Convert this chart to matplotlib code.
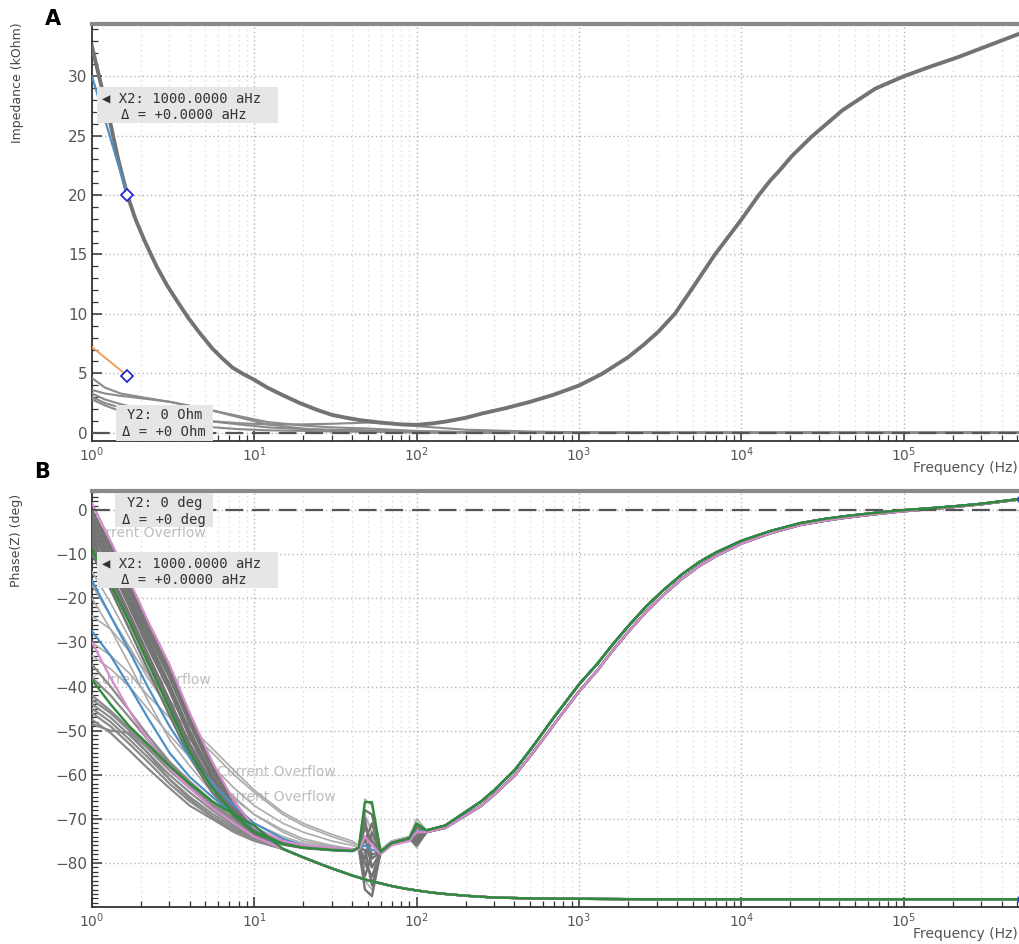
import matplotlib
matplotlib.use('Agg')
import matplotlib.pyplot as plt
from matplotlib.patches import Rectangle
from matplotlib.ticker import LogLocator, MultipleLocator, NullFormatter

#==============================================================================
# Panel A : impedance (kOhm)
#==============================================================================
f_main = [1, 1.15, 1.3, 1.45, 1.65, 1.85, 2.1, 2.5, 2.9, 3.3, 3.9, 4.6, 5.5, 6.3,
          7.3, 8.5, 10, 12, 15, 19, 24, 30, 37, 45, 60, 80, 100, 125, 150, 200,
          250, 350, 500, 700, 1000, 1380, 2000, 2500, 3080, 3890, 4900, 6870, 1e4,
          1.28e4, 1.5e4, 1.7e4, 2.05e4, 2.7e4, 4.2e4, 6.7e4, 1e5, 1.45e5, 2.15e5,
          3.2e5, 5.2e5]
z_main = [32.5, 29, 26, 23, 20, 18, 16.2, 14, 12.4, 11.2, 9.7, 8.4, 7.1, 6.3,
          5.5, 4.95, 4.45, 3.8, 3.15, 2.5, 1.95, 1.5, 1.25, 1.05, 0.85, 0.7, 0.66,
          0.78, 0.93, 1.25, 1.6, 2.05, 2.6, 3.2, 3.97, 4.94, 6.34, 7.4, 8.5, 10.0,
          12.0, 15.0, 17.94, 20.0, 21.2, 22.0, 23.3, 24.9, 27.15, 28.97, 30.0, 30.8,
          31.6, 32.5, 33.6]

f_low = [1, 1.2, 1.5, 2, 3, 5, 8, 12, 20, 30, 50, 70, 100, 200, 500, 1000, 1e4, 1e5, 5.2e5]
z_low1 = [4.6, 3.8, 3.3, 3.0, 2.6, 2.0, 1.4, 0.9, 0.6, 0.45, 0.35, 0.25, 0.15, 0.05, 0.02, 0, 0, 0, 0]
z_low2 = [3.6, 3.3, 3.1, 2.9, 2.6, 2.0, 1.3, 0.7, 0.35, 0.2, 0.1, 0.05, 0.02, 0, 0, 0, 0, 0, 0]
z_low3 = [3.3, 2.8, 2.4, 2.0, 1.5, 1.0, 0.7, 0.45, 0.3, 0.25, 0.2, 0.15, 0.1, 0.05, 0.02, 0, 0, 0, 0]
z_low4 = [3.0, 2.5, 2.1, 1.7, 1.3, 1.0, 0.8, 0.7, 0.7, 0.75, 0.85, 0.75, 0.55, 0.25, 0.1, 0.03, 0, 0, 0]
z_low5 = [2.8, 2.3, 1.8, 1.3, 0.8, 0.5, 0.3, 0.2, 0.15, 0.1, 0.08, 0.05, 0.03, 0, 0, 0, 0, 0, 0]

f_cursor = [1, 1.65]
z_blue = [30, 20]
z_orange = [7.2, 4.8]

#==============================================================================
# Panel B : phase (deg)
#==============================================================================
f_head = [1, 1.3, 1.7, 2.2, 3, 4, 5.5, 7.5, 10, 15, 20, 30, 40]
f_spike1 = [44, 48, 53, 60, 70, 90, 100]
f_up_tail = [115, 150, 200, 250, 300, 400, 500, 700, 1000, 1300, 1600, 2000, 2600,
             3300, 4300, 5500, 7000, 1e4, 1.5e4, 2.3e4, 3.3e4, 4.5e4, 6.5e4, 9.5e4,
             1.4e5, 2e5, 3e5, 5.2e5]
p_up_tail = [-72.6, -71.5, -68.4, -66, -63.5, -59, -54.4, -47, -39.5, -34.8, -30.6,
             -26.4, -21.8, -18.2, -14.6, -11.8, -9.6, -7.0, -4.8, -3.0, -2.0, -1.35,
             -0.7, -0.1, 0.35, 0.8, 1.4, 2.5]
p_up_tail_lo = [-73, -72, -69.2, -67, -64.5, -60.2, -55.8, -48.6, -41.1, -36.3,
                -32.0, -27.7, -23.0, -19.3, -15.6, -12.7, -10.4, -7.6, -5.3, -3.4,
                -2.4, -1.7, -1.0, -0.35, 0.15, 0.65, 1.3, 2.4]

# heads (1..40 Hz) of the curves ending on the upper branch
s1 = [0, -8, -17, -26, -36, -47, -58, -66, -72, -75.2, -76.2, -76.8, -77]
s2 = [-2, -10, -19, -28, -38, -48.5, -59, -67, -72.3, -75.3, -76.2, -76.8, -77]
s3 = [-3, -11, -20, -29, -39.5, -50, -60, -67.5, -72.5, -75.4, -76.3, -76.9, -77.1]
s4 = [-5, -13, -22, -31, -41, -51.5, -61, -68, -72.8, -75.5, -76.4, -77, -77.2]
s5 = [-6, -14.5, -23.5, -32.5, -43, -53, -62, -68.5, -73, -75.6, -76.5, -77, -77.2]
s6 = [-8, -16, -25, -34, -44.5, -54.5, -63, -69, -73.2, -75.7, -76.5, -77, -77.2]
s7 = [-10, -18, -27, -36, -46.5, -56, -64, -69.5, -73.5, -75.8, -76.6, -77.1, -77.3]
s8 = [-4, -12, -21, -30, -40, -50.5, -60.5, -67.8, -72.6, -75.4, -76.3, -76.9, -77.1]
s9 = [-7, -15, -24, -33, -43.5, -54, -62.5, -68.7, -73.1, -75.6, -76.5, -77, -77.2]
s10 = [-1, -9, -18, -27, -37, -47.5, -58.5, -66.5, -72.1, -75.2, -76.2, -76.8, -77]
l1 = [-17, -24, -31, -38, -45, -50, -55, -60, -64, -69, -71.5, -74, -75.5]
l2 = [-24, -27, -32, -37, -43, -49, -54, -59, -63.5, -68.5, -71, -73.5, -75]
l3 = [-30, -33, -37, -42, -47, -52, -58, -63, -67, -71, -73, -75, -76]
l4 = [-20, -27, -35, -43, -52, -58, -64, -68, -71, -74, -75.5, -76.5, -77]
l5 = [-33, -36, -40, -45, -51, -56, -61, -65.5, -69, -72.5, -74.5, -76, -76.8]
l6 = [-14, -21, -29, -37, -46, -53, -60, -65, -69, -73, -75, -76.3, -77]
green_up = [-9, -17, -25.5, -34.5, -45, -55, -63, -69, -73, -75.6, -76.5, -77, -77.2]
pink_up = [1.5, -7, -16, -25, -35, -46, -57, -66, -72, -75, -76, -76.6, -76.8]
blue_up = [-16, -24, -32, -40, -49, -56, -62, -67, -71, -74.5, -76, -77, -77.3]

# values at 44, 48, 53, 60, 70, 90, 100 Hz (mains noise)
sp_s1 = [-76.7, -68, -69, -77.5, -75.5, -74.4, -72]
sp_s2 = [-76.7, -72, -75, -77.5, -75.5, -74.4, -73]
sp_s3 = [-76.7, -80, -83, -77.5, -75.5, -74.4, -74]
sp_s4 = [-76.7, -86, -87.5, -77.5, -75.5, -74.4, -76]
sp_s5 = [-76.7, -75, -71, -77.5, -75.5, -74.4, -71.5]
sp_s6 = [-76.7, -83, -78, -77.5, -75.5, -74.4, -75]
sp_s7 = [-76.7, -70, -79, -77.5, -75.5, -74.4, -73.5]
sp_s8 = [-76.7, -77, -85, -77.5, -75.5, -74.4, -74.5]
sp_s9 = [-76.7, -79, -73, -77.5, -75.5, -74.4, -73]
sp_s10 = [-76.7, -74, -81, -77.5, -75.5, -74.4, -75.5]
sp_l1 = [-76, -65.5, -67, -77, -75, -74, -70]
sp_l2 = [-76, -69, -73, -77, -75, -74, -72]
sp_l3 = [-76.5, -78, -81, -77.5, -75.5, -74.4, -75]
sp_l4 = [-76.7, -84, -86, -77.5, -75.5, -74.4, -76.5]
sp_l5 = [-76.7, -71, -76, -77.5, -75.5, -74.4, -72.5]
sp_l6 = [-76.7, -81, -74, -77.5, -75.5, -74.4, -74]
sp_green = [-76.5, -66.2, -66.2, -77.5, -75.5, -74.4, -71]
sp_pink = [-77, -74, -76, -78, -76, -75, -73]
sp_blue = [-76.7, -76, -77, -77.5, -75.5, -74.4, -73]

# curves ending on the lower branch
f_head_lo = [1, 1.3, 1.7, 2.2, 3, 4, 5.5, 7.5, 10]
f_lo_tail = [15, 20, 25, 30, 40, 50, 60, 70, 85, 100, 125, 150, 200, 300, 500,
             1000, 3000, 1e4, 1e5, 5.2e5]
p_lo_tail = [-76.8, -78.7, -80.1, -81.2, -82.8, -83.9, -84.6, -85.2, -85.8, -86.2,
             -86.7, -87, -87.4, -87.8, -88, -88.1, -88.2, -88.2, -88.2, -88.2]
d1 = [-44, -47, -51, -55, -60, -64, -68, -71.5, -74]
d2 = [-45, -48, -52, -56, -61, -65, -68.8, -72, -74.3]
d3 = [-46, -49, -53, -57, -62, -66, -69.5, -72.5, -74.6]
d4 = [-47.5, -50.5, -54.5, -58.5, -63, -67, -70, -73, -75]
d5 = [-43, -46, -50, -54, -59, -63, -67, -70.5, -73.5]
d6 = [-42, -45.5, -49.5, -53.5, -58.5, -62.5, -66.5, -70, -73.2]
d7 = [-35, -40, -45.5, -51, -57, -61.5, -66, -70, -73]
d8 = [-38, -42, -47, -52, -57.5, -62, -66.5, -70.2, -73.3]
d9 = [-48.5, -50, -50.5, -55, -61, -65.5, -69.5, -72.5, -74.8]
green_lo = [-38.5, -44, -49, -53, -58, -62, -66, -69, -71.5]
pink_lo = [-30, -38, -45.5, -52, -58.5, -63, -67.5, -71, -74]
blue_lo = [-27.5, -33, -40, -47, -55, -60.5, -65, -69, -72]

#==============================================================================
# Figure
#==============================================================================
W, H = 1020, 944
fig = plt.figure(figsize=(W / 100, H / 100), dpi=100)


def px(x, y):
    return x / W, 1 - y / H


ax1 = fig.add_axes([92 / W, 1 - 441 / H, (W - 92) / W, (441 - 24) / H])
ax2 = fig.add_axes([92 / W, 1 - 907 / H, (W - 92) / W, (907 - 491) / H])

GREY_D = '#737373'
GREY_M = '#8a8a8a'
GREY_L = '#ababab'
GREEN = '#2e8b3a'
PINK = '#d68ccc'
BLUE = '#4f8fc4'

# ---- panel A lines
for z in [z_low1, z_low2, z_low3, z_low4, z_low5]:
    ax1.plot(f_low, z, color=GREY_M, lw=1.5, zorder=3)
ax1.plot(f_main, z_main, color=GREY_D, lw=2.8, zorder=4)
ax1.plot(f_cursor, z_blue, color=BLUE, lw=1.6, zorder=5)
ax1.plot(f_cursor, z_orange, color='#f0a060', lw=1.4, zorder=5)
ax1.plot([f_cursor[1]] * 2, [z_blue[1], z_orange[1]], ls='none', marker='D',
         ms=6, mfc='white', mec='#2a2ad0', mew=1.3, zorder=6)
ax1.axhline(0, color='#555555', lw=1.6, ls=(0, (8, 4)), zorder=4)

# ---- panel B lines
up_light = [(l1, sp_l1, p_up_tail), (l2, sp_l2, p_up_tail_lo), (l3, sp_l3, p_up_tail),
            (l4, sp_l4, p_up_tail_lo), (l5, sp_l5, p_up_tail), (l6, sp_l6, p_up_tail_lo)]
up_dark = [(s1, sp_s1, p_up_tail), (s2, sp_s2, p_up_tail_lo), (s3, sp_s3, p_up_tail),
           (s4, sp_s4, p_up_tail_lo), (s5, sp_s5, p_up_tail), (s6, sp_s6, p_up_tail_lo),
           (s7, sp_s7, p_up_tail), (s8, sp_s8, p_up_tail_lo), (s9, sp_s9, p_up_tail),
           (s10, sp_s10, p_up_tail_lo)]
f_up = f_head + f_spike1 + f_up_tail
f_lo = f_head_lo + f_lo_tail

for head, sp, tail in up_light:
    ax2.plot(f_up, head + sp + tail, color=GREY_L, lw=1.2, zorder=3)
for d in [d1, d2, d3, d4, d5, d6, d7, d8, d9]:
    ax2.plot(f_lo, d + p_lo_tail, color=GREY_M, lw=1.6, zorder=3)
for head, sp, tail in up_dark:
    ax2.plot(f_up, head + sp + tail, color=GREY_D, lw=1.7, zorder=3)

ax2.plot(f_lo, blue_lo + p_lo_tail, color=BLUE, lw=1.6, zorder=4)
ax2.plot(f_lo, pink_lo + p_lo_tail, color=PINK, lw=1.6, zorder=4)
ax2.plot(f_up, blue_up + sp_blue + p_up_tail, color=BLUE, lw=1.6, zorder=4)
ax2.plot(f_up, pink_up + sp_pink + p_up_tail_lo, color=PINK, lw=1.6, zorder=4)
ax2.plot(f_lo, green_lo + p_lo_tail, color=GREEN, lw=1.7, zorder=5)
ax2.plot(f_up, green_up + sp_green + p_up_tail, color=GREEN, lw=1.7, zorder=5)
ax2.plot([f_up[-1], f_lo[-1]], [p_up_tail[-1], p_lo_tail[-1]], ls='none',
         marker='o', ms=4, color='#2a40d0', clip_on=False, zorder=6)
ax2.axhline(0, color='#555555', lw=1.6, ls=(0, (8, 4)), zorder=4)

for fx, py in [(0.93, -5.2), (1.0, -38.5), (5.9, -59.4), (5.9, -65.0)]:
    ax2.text(fx, py, 'Current Overflow', color='#bdbdbd', fontsize=10,
             ha='left', va='center', clip_on=True, zorder=2)

# ---- axes styling
for ax, ylim, ymaj in [(ax1, (-0.7, 34.4), 5), (ax2, (-89.95, 4.3), 10)]:
    ax.set_xscale('log')
    ax.set_xlim(1, 5.2e5)
    ax.set_ylim(*ylim)
    ax.xaxis.set_major_locator(LogLocator(base=10, numticks=10))
    ax.xaxis.set_minor_locator(LogLocator(base=10, subs=range(2, 10), numticks=20))
    ax.xaxis.set_minor_formatter(NullFormatter())
    ax.yaxis.set_major_locator(MultipleLocator(ymaj))
    ax.yaxis.set_minor_locator(MultipleLocator(1))
    ax.grid(which='major', color='#b5b5b5', ls=(0, (1, 2)), lw=1.0)
    ax.grid(which='minor', axis='x', color='#d9d9d9', ls=(0, (1, 3)), lw=0.9)
    ax.set_axisbelow(True)
    ax.tick_params(which='major', direction='in', length=7, width=1.1,
                   color='#333333', labelcolor='#555555', labelsize=10)
    ax.tick_params(axis='y', which='major', labelsize=11)
    ax.tick_params(which='minor', direction='in', length=4, width=0.9, color='#333333')
    ax.spines['right'].set_visible(False)
    ax.spines['top'].set_color('#8a8a8a')
    ax.spines['top'].set_linewidth(3)
    ax.spines['left'].set_color('#333333')
    ax.spines['bottom'].set_color('#333333')
    ax.spines['left'].set_linewidth(1.3)
    ax.spines['bottom'].set_linewidth(1.3)

# ---- cursor read-out boxes
mono = ['DejaVu Sans Mono', 'DejaVu Sans']
boxes = [(97, 87, 278, 123), (116, 405, 213, 441), (115, 493, 213, 527), (97, 552, 278, 588)]
for x0, y0, x1, y1 in boxes:
    fig.patches.append(Rectangle(px(x0, y1), (x1 - x0) / W, (y1 - y0) / H,
                                 transform=fig.transFigure, facecolor='#e6e6e6',
                                 edgecolor='none', zorder=5))
labels = [(102, 98, '\u25c0 X2: 1000.0000 aHz'), (121, 115, '\u0394 = +0.0000 aHz'),
          (127, 415, 'Y2: 0 Ohm'), (122, 432, '\u0394 = +0 Ohm'),
          (127, 503, 'Y2: 0 deg'), (122, 520, '\u0394 = +0 deg'),
          (102, 563, '\u25c0 X2: 1000.0000 aHz'), (121, 580, '\u0394 = +0.0000 aHz')]
for x, y, s in labels:
    fig.text(*px(x, y), s, family=mono, fontsize=10, color='#333333',
             ha='left', va='center', zorder=6)

# ---- labels
fig.text(*px(53, 19), 'A', fontsize=15, fontweight='bold', ha='center', va='center')
fig.text(*px(42, 472), 'B', fontsize=15, fontweight='bold', ha='center', va='center')
fig.text(*px(18, 83), 'Impedance (kOhm)', rotation=90, fontsize=9, color='#444444',
         ha='center', va='center')
fig.text(*px(17, 540), 'Phase(Z) (deg)', rotation=90, fontsize=9, color='#444444',
         ha='center', va='center')
fig.text(*px(1018, 468), 'Frequency (Hz)', fontsize=10, color='#555555', ha='right', va='center')
fig.text(*px(1018, 934), 'Frequency (Hz)', fontsize=10, color='#555555', ha='right', va='center')

fig.savefig('out.png', dpi=100)
